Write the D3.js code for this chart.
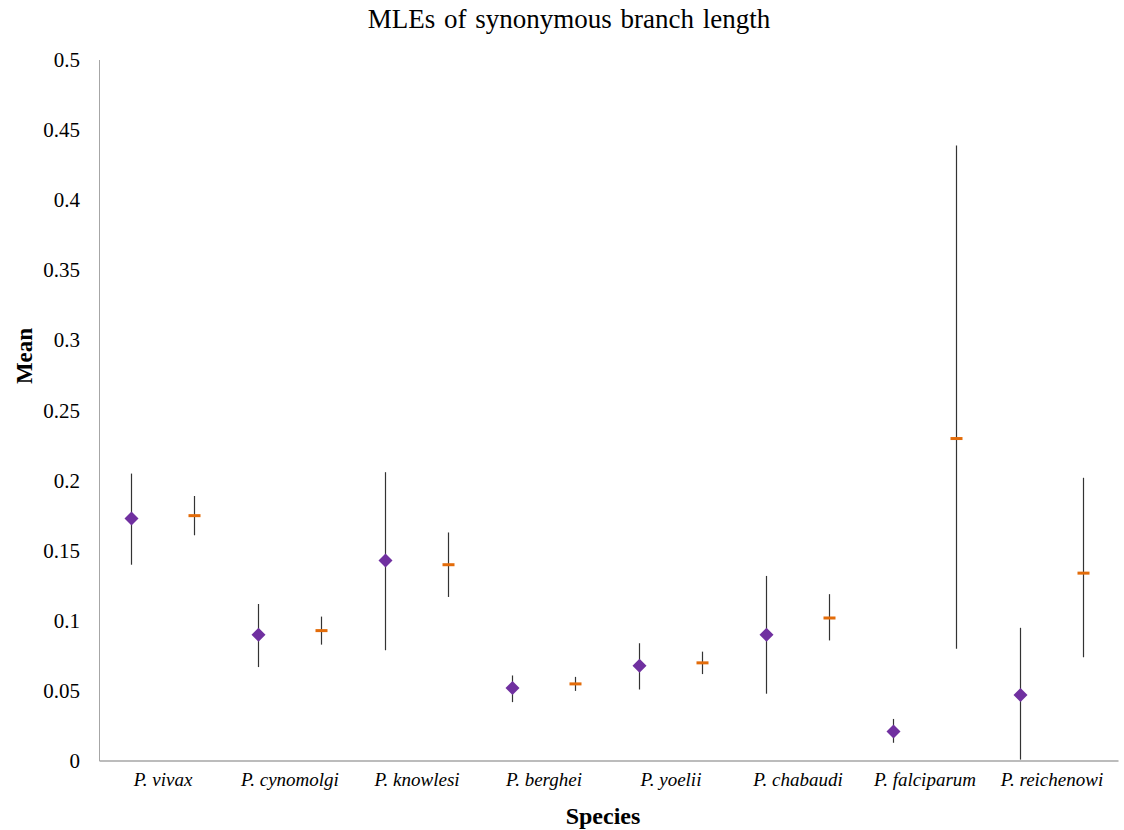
<!DOCTYPE html>
<html>
<head>
<meta charset="utf-8">
<script src="https://cdn.jsdelivr.net/npm/d3@7"></script>
<style>
  body { margin: 0; background: #fff; overflow: hidden; }
  svg { display: block; }
  text { font-family: "Liberation Serif", "Times New Roman", serif; }
</style>
</head>
<body>
<svg id="chart" width="1124" height="830"></svg>
<script>
// species on the x axis
const species = ["P. vivax", "P. cynomolgi", "P. knowlesi", "P. berghei",
                 "P. yoelii", "P. chabaudi", "P. falciparum", "P. reichenowi"];

// first series (purple diamonds): mean, upper and lower ends of the bar
const diamondMean = [0.173, 0.090, 0.143, 0.052, 0.068, 0.090, 0.021, 0.047];
const diamondHigh = [0.205, 0.112, 0.206, 0.061, 0.084, 0.132, 0.030, 0.095];
const diamondLow  = [0.140, 0.067, 0.079, 0.042, 0.051, 0.048, 0.013, 0.001];

// second series (orange dashes)
const dashMean = [0.175, 0.093, 0.140, 0.055, 0.070, 0.102, 0.230, 0.134];
const dashHigh = [0.189, 0.103, 0.163, 0.060, 0.078, 0.119, 0.439, 0.202];
const dashLow  = [0.161, 0.083, 0.117, 0.050, 0.062, 0.086, 0.080, 0.074];

const yTicks = [0, 0.05, 0.1, 0.15, 0.2, 0.25, 0.3, 0.35, 0.4, 0.45, 0.5];

const margins = { top: 60, right: 8, bottom: 69, left: 99.5 };
const totalWidth = 1124;
const totalHeight = 830;
const innerWidth = 1016;
const innerHeight = totalHeight - margins.top - margins.bottom;

const svg = d3.select("#chart");

let xscale = d3.scaleBand(species, [margins.left, margins.left + innerWidth]);
let yscale = d3.scaleLinear([0, 0.5], [margins.top + innerHeight, margins.top]);

// +0.5 keeps the 1px bars on whole pixels
const offsetDiamond = -31.5;
const offsetDash = 31.5;

// axes
svg.append("line")
    .attr("x1", margins.left).attr("x2", margins.left)
    .attr("y1", yscale(0.5)).attr("y2", yscale(0))
    .attr("stroke", "#a6a6a6").attr("stroke-width", 1);
svg.append("line")
    .attr("x1", margins.left).attr("x2", margins.left + innerWidth + 3)
    .attr("y1", yscale(0)).attr("y2", yscale(0))
    .attr("stroke", "#a6a6a6").attr("stroke-width", 1.3);

svg.selectAll(".ytick").data(yTicks).enter()
    .append("text")
    .attr("class", "ytick")
    .attr("x", 80)
    .attr("y", d => yscale(d) + 7)
    .attr("text-anchor", "end")
    .style("font-size", "21px")
    .attr("fill", "#000")
    .text(d => d);

svg.selectAll(".xtick").data(species).enter()
    .append("text")
    .attr("class", "xtick")
    .attr("x", d => xscale(d) + xscale.bandwidth() / 2)
    .attr("y", 786)
    .attr("text-anchor", "middle")
    .style("font-size", "19px")
    .style("font-style", "italic")
    .text(d => d);

// titles
svg.append("text")
    .attr("x", 569).attr("y", 28)
    .attr("text-anchor", "middle")
    .style("font-size", "27px")
    .style("word-spacing", "2px")
    .text("MLEs of synonymous branch length");

svg.append("text")
    .attr("x", 603).attr("y", 824)
    .attr("text-anchor", "middle")
    .style("font-size", "24px")
    .style("font-weight", "bold")
    .text("Species");

svg.append("text")
    .attr("transform", "translate(32,356) rotate(-90)")
    .attr("text-anchor", "middle")
    .style("font-size", "23px")
    .style("font-weight", "bold")
    .text("Mean");

// error bars
function makeBars(offset, high, low) {
    svg.append("g").selectAll("line").data(species).enter()
        .append("line")
        .attr("x1", d => xscale(d) + xscale.bandwidth() / 2 + offset)
        .attr("x2", d => xscale(d) + xscale.bandwidth() / 2 + offset)
        .attr("y1", (d, i) => yscale(high[i]))
        .attr("y2", (d, i) => yscale(low[i]))
        .attr("stroke", "#333")
        .attr("stroke-width", 1.2);
}
makeBars(offsetDiamond, diamondHigh, diamondLow);
makeBars(offsetDash, dashHigh, dashLow);

// diamonds
svg.append("g").selectAll("path").data(species).enter()
    .append("path")
    .attr("transform", (d, i) =>
        `translate(${xscale(d) + xscale.bandwidth() / 2 + offsetDiamond}, ${yscale(diamondMean[i])})`)
    .attr("d", "M0,-7L7,0L0,7L-7,0Z")
    .attr("fill", "#7030a0");

// dashes
svg.append("g").selectAll("rect").data(species).enter()
    .append("rect")
    .attr("x", d => xscale(d) + xscale.bandwidth() / 2 + offsetDash - 6)
    .attr("y", (d, i) => yscale(dashMean[i]) - 1.5)
    .attr("width", 12)
    .attr("height", 3)
    .attr("fill", "#e36c0a");
</script>
</body>
</html>
